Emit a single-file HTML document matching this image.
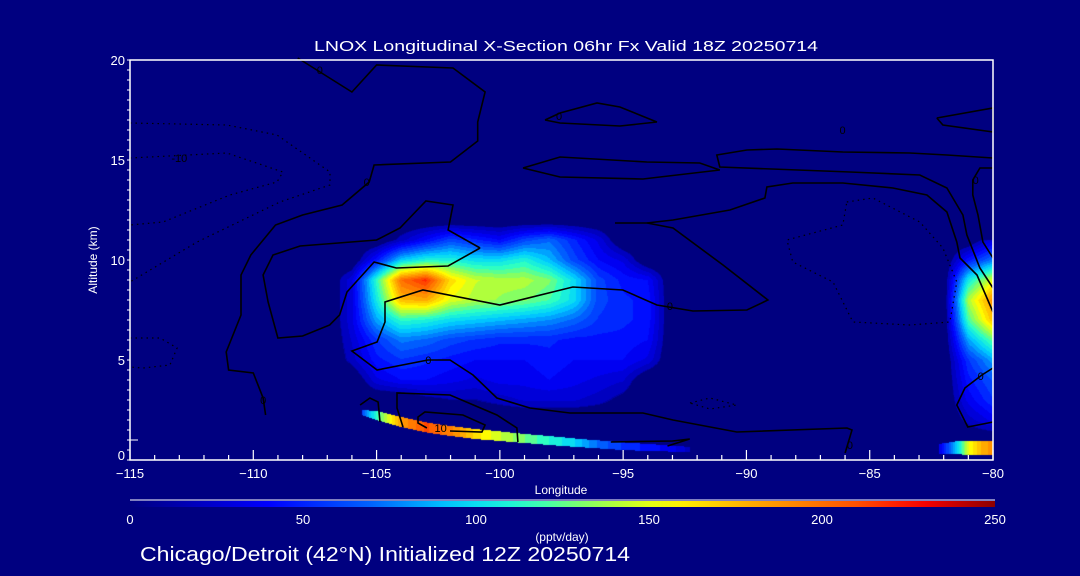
<!DOCTYPE html>
<html><head><meta charset="utf-8"><style>
html,body{margin:0;padding:0;background:#000080;width:1080px;height:576px;overflow:hidden}
#wrap{position:relative;width:1080px;height:576px;background:#000080}
canvas{position:absolute;left:130px;top:60px}
svg{position:absolute;left:0;top:0}
text{font-family:"Liberation Sans",sans-serif;fill:#fff}
</style></head><body>
<div id="wrap">
<canvas id="heat" width="863" height="400"></canvas>
<svg id="ov" width="1080" height="576">
<defs><linearGradient id="cbg" x1="0" x2="1" y1="0" y2="0"></linearGradient></defs>
<text x="566" y="51" font-size="15" text-anchor="middle" textLength="504" lengthAdjust="spacingAndGlyphs">LNOX Longitudinal X-Section 06hr  Fx Valid 18Z 20250714</text>
<text x="561" y="494" font-size="12" text-anchor="middle">Longitude</text>
<text x="97" y="260" font-size="12" text-anchor="middle" transform="rotate(-90 97 260)">Altitude (km)</text>
<text x="562" y="541" font-size="12" text-anchor="middle">(pptv/day)</text>
<text x="140" y="561" font-size="20" textLength="490" lengthAdjust="spacingAndGlyphs">Chicago/Detroit (42°N) Initialized 12Z 20250714</text>
<rect x="130" y="501" width="865" height="6" fill="url(#cbg)"/>
<line x1="130" y1="500" x2="995" y2="500" stroke="#fff" stroke-width="1"/>
<g id="contours"></g>
<g id="axes"></g>
</svg>
</div>
<script>
// ---- data ----
const xTicks = [-115,-110,-105,-100,-95,-90,-85,-80];
const yTicks = [0,5,10,15,20];
const cbTicks = [0,50,100,150,200,250];
const heatLon = [-107,-106,-105,-104,-103,-102,-101,-100,-99,-98,-97,-96,-95,-94,-93,-92];
const heatAlt = [0,1,2,3,4,5,6,7,8,9,10,11,12];
const heatVals = [
 [0,0,0,0,0,0,0,0,0,0,0,0,0,0,0,0],
 [0,0,0,0,0,0,0,0,0,0,0,0,0,0,0,0],
 [0,0,0,0,0,0,0,0,0,0,0,0,0,0,0,0],
 [0,0,0,0,10,15,15,20,25,25,25,20,10,0,0,0],
 [0,0,30,40,40,35,30,35,35,40,35,30,25,0,0,0],
 [0,20,45,55,50,45,40,40,40,45,40,40,40,30,0,0],
 [0,25,55,75,70,60,55,50,50,50,45,45,45,40,0,0],
 [0,30,85,115,110,100,95,90,85,80,70,55,50,45,0,0],
 [0,30,105,175,180,150,140,135,130,120,100,60,50,45,0,0],
 [0,30,115,200,220,165,145,140,140,130,100,60,45,40,0,0],
 [0,0,45,95,110,110,100,100,110,90,60,40,30,0,0,0],
 [0,0,0,20,40,60,50,40,60,70,50,30,0,0,0,0],
 [0,0,0,0,0,0,0,0,0,0,0,0,0,0,0,0]
];
const rightLon = [-83,-82,-81,-80];
const rightAlt = [0,1,2,3,4,5,6,7,8,9,10,11];
const rightVals = [
 [0,0,0,0],[0,0,0,0],[0,0,20,35],[0,0,35,55],[0,0,45,65],[0,0,55,85],
 [0,0,85,125],[0,0,120,175],[0,0,140,190],[0,0,105,150],[0,0,45,75],[0,0,0,30]
];
const streakLon = [-105.6,-105,-104,-103,-102,-101,-100,-99,-98,-97,-96,-95,-94,-93,-92.3];
const streakVal = [60,115,185,210,195,165,145,128,112,97,70,55,45,35,20];
const streakBase = [2.25,2.0,1.65,1.38,1.2,1.05,0.95,0.85,0.75,0.66,0.58,0.5,0.45,0.42,0.4];
const streakDepth = [0.25,0.45,0.5,0.5,0.5,0.5,0.48,0.45,0.45,0.42,0.4,0.38,0.35,0.3,0.25];
const surfLon = [-82.2,-81.5,-81,-80.5,-80];
const surfVal = [30,90,150,175,190];
const surfBase = [0.3,0.28,0.27,0.26,0.25];
const surfDepth = [0.5,0.65,0.7,0.7,0.7];
const solidContours = [
 [[-108.2,20.1],[-106.0,18.4],[-105.0,19.75],[-101.9,19.6],[-100.6,18.4],[-100.9,16.9],[-100.9,15.95],[-102.0,14.9],[-105.1,14.75],[-105.3,13.9],[-106.4,12.75],[-108.0,12.25],[-109.1,11.75],[-110.1,10.25],[-110.5,9.25],[-110.5,7.25],[-111.1,5.4],[-111.0,4.5],[-110.0,4.35],[-109.6,3.1],[-109.5,2.25]],
 [[-100.8,10.6],[-102.1,11.5],[-101.9,12.75],[-103.0,12.95],[-104.05,11.6],[-105.0,11.0],[-108.1,10.7],[-109.2,10.25],[-109.6,9.25],[-109.4,7.9],[-109.0,6.1],[-108.0,6.2],[-106.9,6.75],[-106.5,7.25],[-106.2,8.4],[-105.1,9.9],[-104.2,9.6],[-102.1,9.7],[-100.8,10.6]],
 [[-95.33,11.85],[-94.03,11.85],[-92.98,11.6],[-90.95,9.75],[-89.13,8.0],[-89.98,7.5],[-92.17,7.45],[-93.63,7.75],[-95.01,8.5],[-97.04,8.65],[-100.0,7.75],[-103.12,8.5],[-104.66,7.9],[-104.66,6.9],[-104.98,5.9],[-106.0,5.45],[-104.98,4.5],[-102.92,5.0],[-102.02,5.0],[-101.09,4.25],[-100.12,3.1],[-98.78,2.6],[-97.16,2.35],[-94.2,2.35],[-92.98,2.0],[-90.39,1.4],[-85.92,1.6],[-85.72,1.5],[-86.0,0.35]],
 [[-99.06,14.6],[-97.56,15.15],[-94.04,14.9],[-91.89,14.85],[-91.08,14.5],[-94.2,14.05],[-97.56,14.15],[-99.06,14.6]],
 [[-98.17,17.0],[-97.56,17.35],[-96.06,17.85],[-95.13,17.65],[-93.63,16.9],[-95.13,16.7],[-97.56,16.85],[-98.17,17.0]],
 [[-80.0,15.1],[-81.87,15.25],[-83.37,15.35],[-86.09,15.4],[-88.76,15.55],[-89.98,15.5],[-91.2,15.25],[-91.08,14.65],[-85.8,14.4],[-82.97,14.25],[-81.87,13.6],[-81.22,12.25],[-81.06,11.25],[-80.53,9.6],[-80.0,8.6]],
 [[-80,14.6],[-80.53,14.6],[-80.82,14.0],[-80.82,13.25],[-80.61,12.25],[-80.41,10.9],[-80,10.1]],
 [[-94.04,11.85],[-92.98,12.0],[-90.67,12.5],[-89.25,13.1],[-89.17,13.65],[-88.12,13.85],[-86.09,13.85],[-84.06,13.6],[-82.68,13.25],[-81.87,12.4],[-81.47,10.9],[-81.34,10.1],[-80.65,9.25],[-80,7.4]],
 [[-82.28,17.1],[-80,17.6],[-80,16.4],[-82.03,16.75],[-82.28,17.1]],
 [[-80,4.6],[-80.45,4.25],[-81.14,3.6],[-81.47,2.75],[-81.02,1.65],[-80,1.9]],
 [[-103.93,1.65],[-104.17,2.6],[-104.17,3.35],[-102.02,3.25],[-100.12,2.25],[-99.31,1.6],[-99.27,0.9]],
 [[-102.96,1.6],[-103.32,1.85],[-103.32,2.15],[-103.04,2.4],[-101.5,2.25],[-100.6,1.75],[-100.73,1.4],[-102.02,1.45]],
 [[-105.67,2.75],[-105.27,3.1],[-104.94,2.9],[-104.86,1.9]],
 [[-95.5,0.9],[-93.0,0.95],[-92.3,1.05],[-93.2,0.7]]
];
const dottedContours = [
 [[-115,16.85],[-111.07,16.75],[-109.04,16.25],[-106.89,14.4],[-106.89,13.75],[-108.92,12.9],[-112.28,10.9],[-115,8.9]],
 [[-115,15.1],[-111.07,15.35],[-108.8,14.4],[-109.04,13.9],[-110.95,13.25],[-113.66,11.9],[-115,11.75]],
 [[-115,6.1],[-113.78,6.1],[-113.09,5.6],[-113.38,4.75],[-114.47,4.6],[-115,4.65]],
 [[-85.93,12.9],[-84.87,13.1],[-82.97,11.9],[-82.03,10.6],[-81.47,8.9],[-81.75,6.9],[-83.37,6.75],[-85.68,6.9],[-86.49,8.9],[-88.12,9.9],[-88.36,11.0],[-86.09,11.75],[-85.93,12.9]],
 [[-92.29,2.85],[-91.48,3.1],[-90.39,2.75],[-91.48,2.55],[-92.29,2.85]]
];
const contourLabels = [["0",-107.3,19.5],["0",-102.9,5.0],["0",-93.1,7.7],["0",-105.4,13.9],["0",-109.6,3.0],["0",-85.8,0.75],["0",-80.5,4.2],["0",-80.7,14.0],["0",-97.6,17.2],["0",-86.1,16.5],["10",-102.4,1.6],["-10",-113.0,15.1]];

// ---- axes ----
const PX0=130,PX1=993,PY0=60,PY1=460;
const xScale = lon => PX0 + (lon+115)/35*(PX1-PX0);
const yScale = alt => PY1 - alt/20*(PY1-PY0);

const stops=[[0,0,0,128],[40,0,0,255],[70,0,100,255],[95,0,210,255],[115,40,255,200],[135,150,255,80],[155,255,255,0],[180,255,170,0],[210,255,80,0],[228,255,0,0],[250,140,0,0]];
function cmap(v){
  if(v<=stops[0][0])return stops[0].slice(1);
  for(let i=1;i<stops.length;i++){if(v<=stops[i][0]){const a=stops[i-1],b=stops[i],t=(v-a[0])/(b[0]-a[0]);return [a[1]+(b[1]-a[1])*t,a[2]+(b[2]-a[2])*t,a[3]+(b[3]-a[3])*t];}}
  return stops[stops.length-1].slice(1);
}
function bilin(lons,alts,vals,lon,alt){
  if(lon<lons[0]||lon>lons[lons.length-1]||alt<alts[0]||alt>alts[alts.length-1])return 0;
  let i=0;while(i<lons.length-2&&lon>lons[i+1])i++;
  let j=0;while(j<alts.length-2&&alt>alts[j+1])j++;
  const tx=(lon-lons[i])/(lons[i+1]-lons[i]),ty=(alt-alts[j])/(alts[j+1]-alts[j]);
  const a=vals[j][i],b=vals[j][i+1],c=vals[j+1][i],d=vals[j+1][i+1];
  return (a*(1-tx)+b*tx)*(1-ty)+(c*(1-tx)+d*tx)*ty;
}
function interp1(xs,ys,x){
  for(let i=0;i<xs.length-1;i++){if(x>=xs[i]&&x<=xs[i+1]){const t=(x-xs[i])/(xs[i+1]-xs[i]);return ys[i]+(ys[i+1]-ys[i])*t;}}
  return null;
}
function band(lons,vals,bases,depths,lon,alt){
  const v=interp1(lons,vals,lon);if(v===null)return null;
  const b=interp1(lons,bases,lon),d=interp1(lons,depths,lon);
  if(alt<b)return -1;
  if(alt<=b+d)return v;
  return null;
}
// heatmap
const cv=document.getElementById('heat'),ctx=cv.getContext('2d');
const W=cv.width,H=cv.height,img=ctx.createImageData(W,H);
for(let j=0;j<H;j++){
  const alt=20-(j+0.5)/H*20;
  for(let i=0;i<W;i++){
    const lon=-115+(i+0.5)/W*35;
    let v=bilin(heatLon,heatAlt,heatVals,lon,alt)+bilin(rightLon,rightAlt,rightVals,lon,alt);
    const s=band(streakLon,streakVal,streakBase,streakDepth,lon,alt);
    if(s!==null){v = s<0?0:s;}
    const s2=band(surfLon,surfVal,surfBase,surfDepth,lon,alt);
    if(s2!==null){v = s2<0?0:s2;}
    let c;
    if(v<15)c=[0,0,128];else{const q=Math.floor(v/8)*8+4;c=cmap(q);}
    const k=(j*W+i)*4;img.data[k]=c[0];img.data[k+1]=c[1];img.data[k+2]=c[2];img.data[k+3]=255;
  }
}
ctx.putImageData(img,0,0);

const NS='http://www.w3.org/2000/svg';
function mk(tag,attrs,parent){const e=document.createElementNS(NS,tag);for(const k in attrs)e.setAttribute(k,attrs[k]);parent.appendChild(e);return e;}
// colorbar gradient
const grad=document.getElementById('cbg');
for(let v=0;v<=250;v+=10){const c=cmap(v);mk('stop',{offset:(v/250),'stop-color':`rgb(${c.map(Math.round).join(',')})`},grad);}
// contours
const cg=document.getElementById('contours');
solidContours.forEach((pts,idx)=>{
  const p=mk('polyline',{points:pts.map(p=>xScale(p[0]).toFixed(1)+','+yScale(p[1]).toFixed(1)).join(' '),fill:'none',stroke:'#000','stroke-width':1.6},cg);
  
  
});
dottedContours.forEach((pts,idx)=>{
  const p=mk('polyline',{points:pts.map(p=>xScale(p[0]).toFixed(1)+','+yScale(p[1]).toFixed(1)).join(' '),fill:'none',stroke:'#000','stroke-width':1.2,'stroke-dasharray':'1.5 4'},cg);
  
  
});
contourLabels.forEach((l,idx)=>{
  const t=mk('text',{x:xScale(l[1]),y:yScale(l[2])+4,'font-size':11,'text-anchor':'middle',style:'fill:#000'},cg);
  t.textContent=l[0];
  
  
});
// axes
const ag=document.getElementById('axes');
const frame=mk('rect',{x:PX0,y:PY0,width:PX1-PX0,height:PY1-PY0,fill:'none',stroke:'#fff','stroke-width':1.5},ag);


for(let lon=-115;lon<=-80;lon+=1){
  const maj=xTicks.includes(lon);
  const t=mk('line',{x1:xScale(lon),x2:xScale(lon),y1:PY1,y2:PY1-(maj?10:5),stroke:'#fff','stroke-width':1.2},ag);
  
  
}
xTicks.forEach(v=>{
  const t=mk('text',{x:xScale(v),y:478,'font-size':13,'text-anchor':'middle'},ag);
  t.textContent='\u2212'+Math.abs(v);
  
  
});
for(let a=0;a<=20;a+=0.5){
  const t=mk('line',{x1:PX0-3,x2:PX0,y1:yScale(a),y2:yScale(a),stroke:'#fff','stroke-width':1},ag);
  
  
}
const yk=mk('line',{x1:PX0,x2:PX0+8,y1:yScale(1),y2:yScale(1),stroke:'#fff','stroke-width':1},ag);


yTicks.forEach(v=>{
  const t=mk('text',{x:125,y:yScale(v)+5-(v===0?5:0),'font-size':13,'text-anchor':'end'},ag);
  t.textContent=v;
  
  
});
cbTicks.forEach(v=>{
  const t=mk('text',{x:130+v/250*865,y:524,'font-size':13,'text-anchor':'middle'},ag);
  t.textContent=v;
  
  
});
</script>
</body></html>
